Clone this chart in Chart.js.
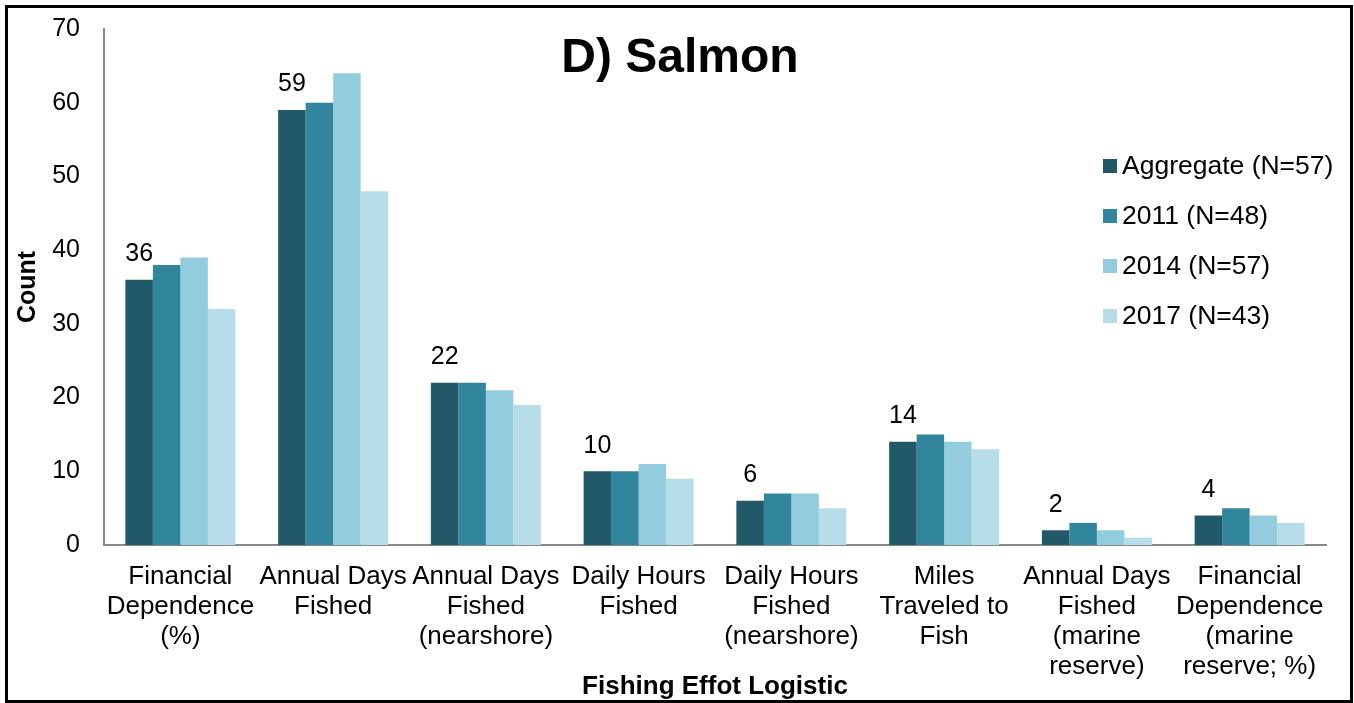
<!DOCTYPE html>
<html>
<head>
<meta charset="utf-8">
<script src="https://cdn.jsdelivr.net/npm/chart.js@4.4.1/dist/chart.umd.min.js"></script>
<style>
  html, body { margin: 0; padding: 0; background: #fff; }
  #wrap { position: relative; width: 1354px; height: 703px; }
</style>
</head>
<body>
<div id="wrap"><canvas id="chart" width="1354" height="703"></canvas></div>
<script>
// Fishing effort logistics for salmon fishers, by survey year
const categories = [
  ["Financial", "Dependence", "(%)"],
  ["Annual Days", "Fished"],
  ["Annual Days", "Fished", "(nearshore)"],
  ["Daily Hours", "Fished"],
  ["Daily Hours", "Fished", "(nearshore)"],
  ["Miles", "Traveled to", "Fish"],
  ["Annual Days", "Fished", "(marine", "reserve)"],
  ["Financial", "Dependence", "(marine", "reserve; %)"]
];
const seriesNames = ["Aggregate (N=57)", "2011 (N=48)", "2014 (N=57)", "2017 (N=43)"];
const aggregate = [36, 59, 22, 10, 6, 14, 2, 4];
const y2011 = [38, 60, 22, 10, 7, 15, 3, 5];
const y2014 = [39, 64, 21, 11, 7, 14, 2, 4];
const y2017 = [32, 48, 19, 9, 5, 13, 1, 3];
const seriesColors = ["#215968", "#31859c", "#93cddd", "#b7dee8"];
const yTicks = [0, 10, 20, 30, 40, 50, 60, 70];

const FONT = "'Liberation Sans', Arial, Helvetica, sans-serif";

// White page with a black frame
const framePlugin = {
  id: 'frame',
  beforeDraw(chart) {
    const c = chart.ctx;
    c.save();
    c.fillStyle = '#fff';
    c.fillRect(0, 0, chart.width, chart.height);
    c.restore();
  },
  afterDraw(chart) {
    const c = chart.ctx;
    c.save();
    c.strokeStyle = '#000';
    c.lineWidth = 3;
    c.strokeRect(6.5, 6.5, chart.width - 9, chart.height - 8);
    c.restore();
  }
};

// Chart heading drawn over the plot
const headingPlugin = {
  id: 'heading',
  afterDraw(chart, args, opts) {
    const c = chart.ctx;
    c.save();
    c.font = 'bold 48px ' + FONT;
    c.fillStyle = '#000';
    c.textAlign = 'center';
    c.textBaseline = 'alphabetic';
    c.fillText(opts.text, opts.x, opts.y);
    c.restore();
  }
};

// Value labels above the aggregate bars
const valueLabelPlugin = {
  id: 'valueLabels',
  afterDatasetsDraw(chart) {
    const meta = chart.getDatasetMeta(0);
    const data = chart.data.datasets[0].data;
    const c = chart.ctx;
    c.save();
    c.font = '25px ' + FONT;
    c.fillStyle = '#000';
    c.textAlign = 'center';
    c.textBaseline = 'bottom';
    meta.data.forEach((bar, i) => {
      c.fillText(String(data[i]), bar.x, bar.y - 13);
    });
    c.restore();
  }
};

// Vertical legend placed inside the plot on the right
const insideLegendPlugin = {
  id: 'insideLegend',
  afterDraw(chart, args, opts) {
    const c = chart.ctx;
    c.save();
    c.font = '26.5px ' + FONT;
    c.textBaseline = 'middle';
    c.textAlign = 'left';
    chart.data.datasets.forEach((ds, i) => {
      const y = opts.top + i * opts.spacing;
      c.fillStyle = ds.backgroundColor;
      c.fillRect(opts.left, y - 7, 14, 14);
      c.fillStyle = '#000';
      c.fillText(ds.label, opts.left + 19, y + 1);
    });
    c.restore();
  }
};

const seriesValues = [aggregate, y2011, y2014, y2017];

new Chart(document.getElementById('chart'), {
  type: 'bar',
  data: {
    labels: categories,
    datasets: seriesNames.map((name, i) => ({
      label: name,
      data: seriesValues[i],
      backgroundColor: seriesColors[i],
      borderWidth: 0,
      categoryPercentage: 0.72,
      barPercentage: 1.0
    }))
  },
  options: {
    responsive: false,
    animation: false,
    devicePixelRatio: 1,
    layout: { padding: { left: 10, right: 28, top: 29, bottom: 0 } },
    plugins: {
      legend: { display: false },
      tooltip: { enabled: false },
      heading: { text: 'D) Salmon', x: 680, y: 72 },
      insideLegend: { left: 1103, top: 166, spacing: 50 }
    },
    scales: {
      x: {
        grid: { display: false, drawTicks: false },
        border: { display: true, color: '#898989', width: 2 },
        ticks: {
          color: '#000',
          font: { family: FONT, size: 26, lineHeight: '30px' },
          padding: 17,
          autoSkip: false,
          maxRotation: 0,
          minRotation: 0
        },
        title: {
          display: true,
          text: 'Fishing Effot Logistic',
          color: '#000',
          font: { family: FONT, size: 26, weight: 'bold' },
          padding: { top: 0, bottom: 1 }
        },
        afterFit(scale) { scale.height = 703 - 545; }
      },
      y: {
        min: 0,
        max: 70,
        grid: { display: false, drawTicks: false },
        border: { display: true, color: '#898989', width: 2 },
        afterBuildTicks(scale) { scale.ticks = yTicks.map(v => ({ value: v })); },
        ticks: {
          color: '#000',
          font: { family: FONT, size: 25 },
          padding: 24
        },
        title: {
          display: true,
          text: 'Count',
          color: '#000',
          font: { family: FONT, size: 25, weight: 'bold' },
          padding: { top: 3, bottom: 0 }
        },
        afterFit(scale) {
          scale.width = 104 - 10;
          scale.paddingTop = 0;
          scale.paddingBottom = 0;
        }
      }
    }
  },
  plugins: [framePlugin, headingPlugin, valueLabelPlugin, insideLegendPlugin]
});
</script>
</body>
</html>
